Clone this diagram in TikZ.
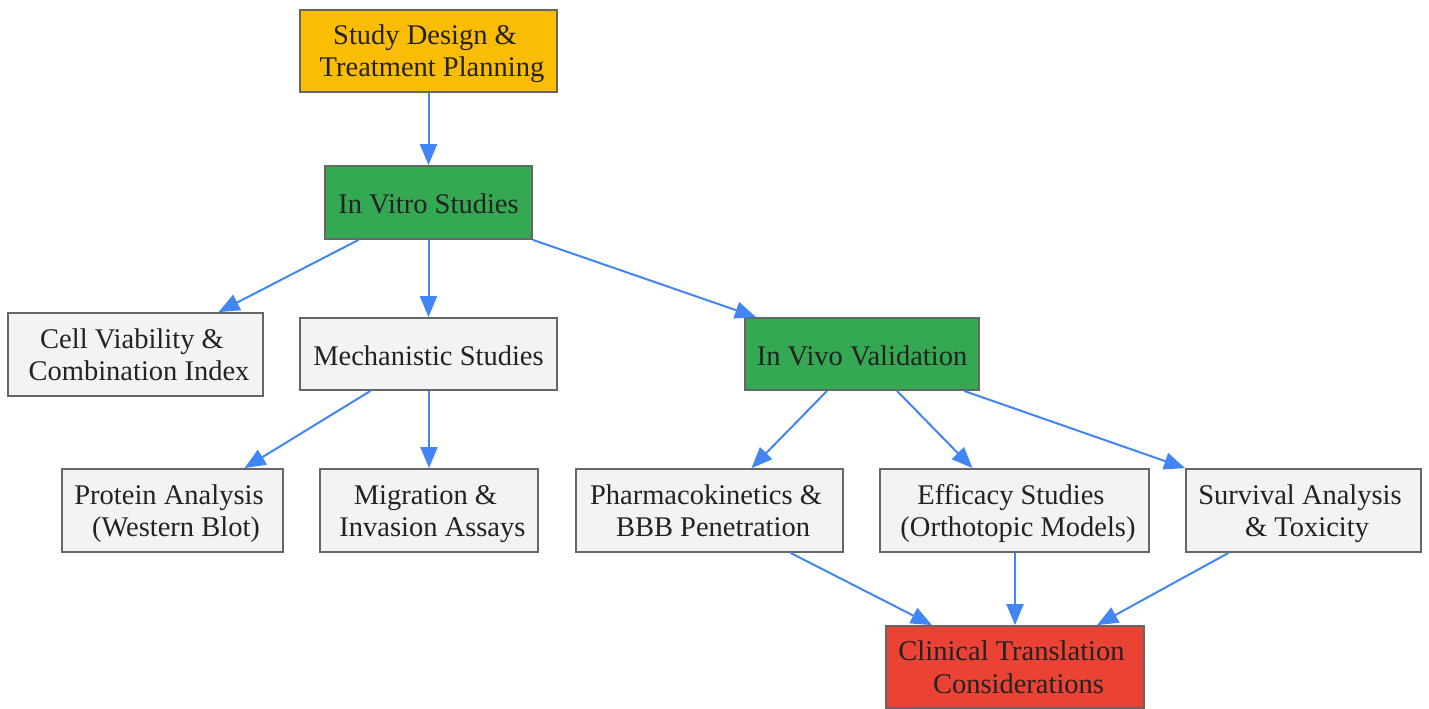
\documentclass[tikz,border=0pt]{standalone}
\usepackage{fontspec}
\setmainfont{Liberation Serif}
\usetikzlibrary{arrows.meta}
\definecolor{yel}{HTML}{FBBC04}
\definecolor{grn}{HTML}{34A853}
\definecolor{lgray}{HTML}{F1F3F4}
\definecolor{rd}{HTML}{EA4335}
\definecolor{bord}{HTML}{666666}
\definecolor{txt}{HTML}{222222}
\definecolor{edge}{HTML}{4285F4}
\newcommand\twol[2]{\raisebox{0pt}[52pt][0pt]{\begin{tabular}[b]{@{}c@{}}#1\rule{7pt}{0pt}\\\rule{7pt}{0pt}#2\end{tabular}}}
\newcommand\onel[1]{\raisebox{0pt}[22pt][0pt]{#1}}
\tikzset{
  box/.style={draw=bord, line width=1.8pt, rectangle, inner sep=0pt,
    text=txt, font=\fontsize{28.5}{32.5}\selectfont},
  yelbox/.style={box, fill=yel},
  grnbox/.style={box, fill=grn},
  graybox/.style={box, fill=lgray},
  redbox/.style={box, fill=rd},
  conn/.style={draw=edge, line width=2pt, -{Triangle[length=21pt,width=17pt]}}
}
\begin{document}
\begin{tikzpicture}[x=1pt,y=1pt]
\useasboundingbox (0,0) rectangle (1429,-709);
\node[yelbox, minimum width=257pt, minimum height=82pt] (study) at (428.5,-51) {\twol{Study Design \&}{Treatment Planning}};
\node[grnbox, minimum width=207pt, minimum height=73pt] (invitro) at (428.5,-202.5) {\onel{In Vitro Studies}};
\node[graybox, minimum width=255pt, minimum height=83pt] (cell) at (135.5,-354.5) {\twol{Cell Viability \&}{Combination Index}};
\node[graybox, minimum width=257pt, minimum height=72pt] (mech) at (428.5,-354) {\onel{Mechanistic Studies}};
\node[grnbox, minimum width=234pt, minimum height=72pt] (invivo) at (862,-354) {\onel{In Vivo Validation}};
\node[graybox, minimum width=221pt, minimum height=83pt] (protein) at (172.5,-510.5) {\twol{Protein Analysis}{(Western Blot)}};
\node[graybox, minimum width=218pt, minimum height=83pt] (migr) at (429,-510.5) {\twol{Migration \&}{Invasion Assays}};
\node[graybox, minimum width=267pt, minimum height=83pt] (pharma) at (709.5,-510.5) {\twol{Pharmacokinetics \&}{BBB Penetration}};
\node[graybox, minimum width=269pt, minimum height=83pt] (effic) at (1014.5,-510.5) {\twol{Efficacy Studies}{(Orthotopic Models)}};
\node[graybox, minimum width=235pt, minimum height=83pt] (surv) at (1303.5,-510.5) {\twol{Survival Analysis}{\& Toxicity}};
\node[redbox, minimum width=258pt, minimum height=82pt] (clin) at (1015,-667) {\twol{Clinical Translation}{Considerations}};

\draw[conn] (study.south) -- (invitro.north);
\draw[conn] ([xshift=-70pt]invitro.south) -- ([xshift=83pt]cell.north);
\draw[conn] (invitro.south) -- (mech.north);
\draw[conn] (invitro.south east) -- ([xshift=12pt]invivo.north west);
\draw[conn] ([xshift=-58pt]mech.south) -- ([xshift=72pt]protein.north);
\draw[conn] ([xshift=0.5pt]mech.south) -- (migr.north);
\draw[conn] ([xshift=-35pt]invivo.south) -- ([xshift=42pt]pharma.north);
\draw[conn] ([xshift=35pt]invivo.south) -- ([xshift=-42pt]effic.north);
\draw[conn] ([xshift=102pt]invivo.south) -- (surv.north west);
\draw[conn] ([xshift=81pt]pharma.south) -- ([xshift=-83pt]clin.north);
\draw[conn] ([xshift=0.5pt]effic.south) -- (clin.north);
\draw[conn] ([xshift=-75pt]surv.south) -- ([xshift=82pt]clin.north);
\end{tikzpicture}
\end{document}
